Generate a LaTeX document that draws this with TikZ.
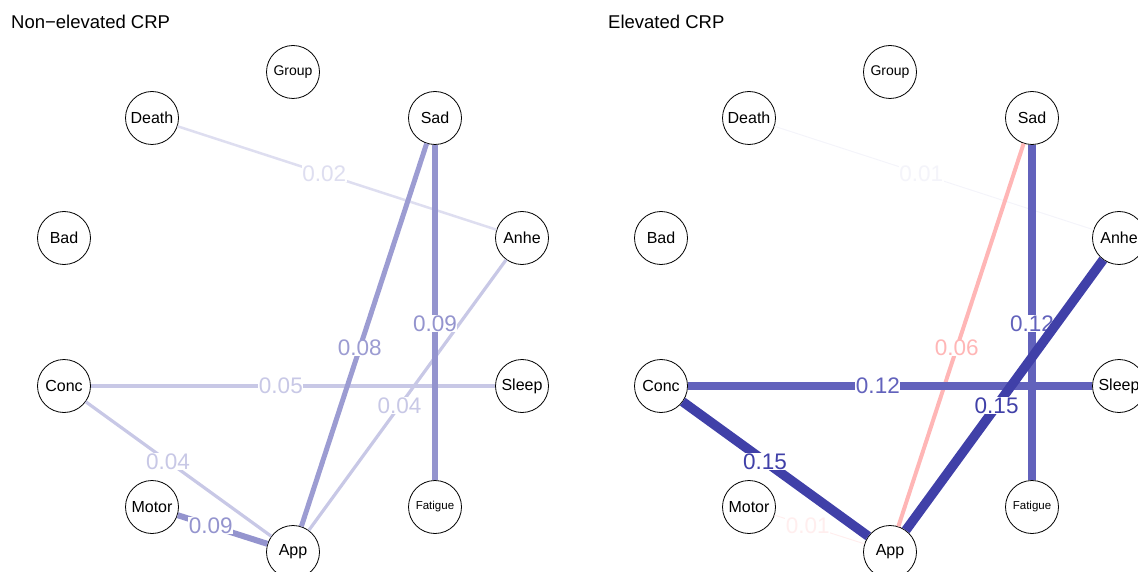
\documentclass[tikz,border=0pt]{standalone}
\usepackage{fontspec}
\setmainfont{Liberation Sans}
\usepackage{xcolor}
\definecolor{lowA}{RGB}{222,222,240}
\definecolor{lowB}{RGB}{200,200,230}
\definecolor{midA}{RGB}{156,156,210}
\definecolor{midB}{RGB}{148,148,206}
\definecolor{faintB}{RGB}{244,244,250}
\definecolor{faintR}{RGB}{255,238,238}
\definecolor{negR}{RGB}{255,182,182}
\definecolor{strA}{RGB}{98,98,188}
\definecolor{strB}{RGB}{64,64,168}

\begin{document}
\begin{tikzpicture}[x=1pt,y=-1pt,
    var/.style={circle,draw,fill=white,line width=0.8pt,minimum size=53pt,inner sep=0pt,
        font=\fontsize{16}{17}\selectfont},
    smallvar/.style={var,font=\fontsize{14}{15}\selectfont},
    tinyvar/.style={var,font=\fontsize{11.5}{12}\selectfont},
    wlab/.style={fill=white,inner sep=0.5pt,font=\fontsize{22.5}{23}\selectfont},
    title/.style={anchor=west,inner sep=0pt,font=\fontsize{18.5}{19}\selectfont}]
    \useasboundingbox (0,0) rectangle (1138,572);
    \clip (0,0) rectangle (1138,572);

    % Panel titles
    \node[title] (L-title) at (11,22) {Non−elevated CRP};
    \node[title] (R-title) at (608,22) {Elevated CRP};

    % Same layout in both panels
    \foreach \p/\dx in {L/0,R/597} {
        \node[smallvar] (\p-Group) at (293+\dx,72) {Group};
        \node[var] (\p-Death) at (152+\dx,118) {Death};
        \node[var] (\p-Sad) at (435+\dx,118) {Sad};
        \node[var] (\p-Bad) at (64+\dx,238) {Bad};
        \node[var] (\p-Anhe) at (522+\dx,238) {Anhe};
        \node[var] (\p-Conc) at (64+\dx,386) {Conc};
        \node[var] (\p-Sleep) at (522+\dx,386) {Sleep};
        \node[var] (\p-Motor) at (152+\dx,507) {Motor};
        \node[tinyvar] (\p-Fatigue) at (435+\dx,507) {Fatigue};
        \node[var] (\p-App) at (293+\dx,552) {App};
    }

    % Non-elevated edges, weakest first
    \draw[lowA,line width=2.5pt] (L-Death) -- node[wlab,pos=0.46] {0.02} (L-Anhe);
    \draw[lowB,line width=3.2pt] (L-Anhe) -- node[wlab,pos=0.54] {0.04} (L-App);
    \draw[lowB,line width=3.2pt] (L-Conc) -- node[wlab,pos=0.443] {0.04} (L-App);
    \draw[lowB,line width=3.8pt] (L-Conc) -- node[wlab,pos=0.47] {0.05} (L-Sleep);
    \draw[midA,line width=5pt] (L-Sad) -- node[wlab,pos=0.534] {0.08} (L-App);
    \draw[midB,line width=6pt] (L-Sad) -- node[wlab,pos=0.534] {0.09} (L-Fatigue);
    \draw[midB,line width=6pt] (L-Motor) -- node[wlab,pos=0.37] {0.09} (L-App);

    % Elevated edges, weakest first
    \draw[faintB,line width=1pt] (R-Death) -- node[wlab,pos=0.46] {0.01} (R-Anhe);
    \draw[faintR,line width=1pt] (R-Motor) -- node[wlab,pos=0.37] {0.01} (R-App);
    \draw[negR,line width=4pt] (R-Sad) -- node[wlab,pos=0.534] {0.06} (R-App);
    \draw[strA,line width=7.5pt] (R-Sad) -- node[wlab,pos=0.534] {0.12} (R-Fatigue);
    \draw[strA,line width=7.5pt] (R-Conc) -- node[wlab,pos=0.47] {0.12} (R-Sleep);
    \draw[strB,line width=9.5pt] (R-Conc) -- node[wlab,pos=0.443] {0.15} (R-App);
    \draw[strB,line width=9.5pt] (R-Anhe) -- node[wlab,pos=0.54] {0.15} (R-App);
\end{tikzpicture}
\end{document}
